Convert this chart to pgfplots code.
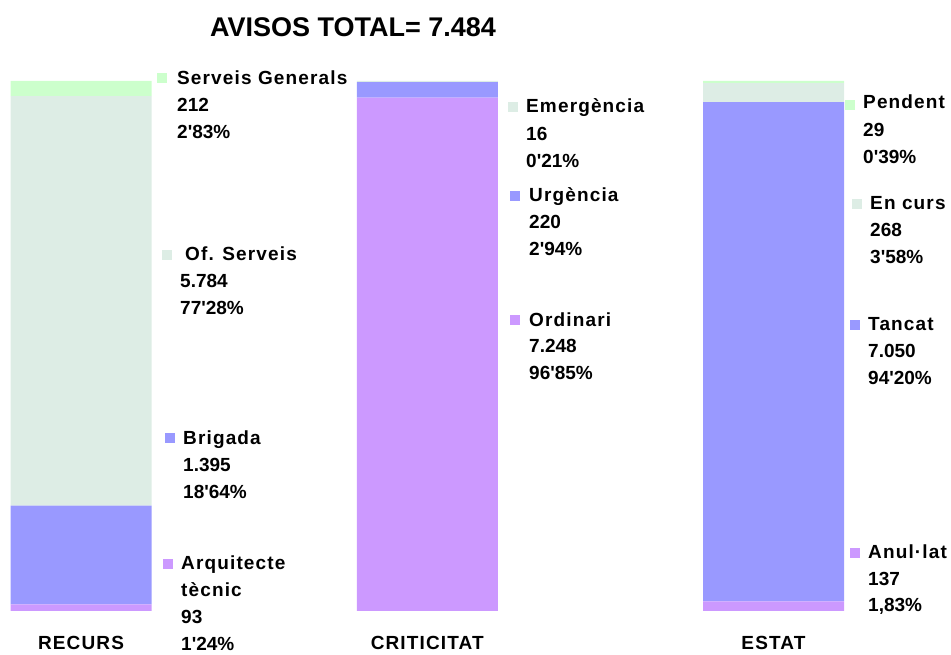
\documentclass[border=0pt]{standalone}
\usepackage{fontspec}
\setmainfont{Liberation Sans}[Ligatures=TeXOff]
\newfontfamily\spfont{Liberation Sans}[Ligatures=TeXOff, LetterSpace=6]
\usepackage{pgfplots}
\pgfplotsset{compat=1.18}
\definecolor{cgreen}{HTML}{CCFFCC}
\definecolor{cgrey}{HTML}{DDEDE5}
\definecolor{cblue}{HTML}{9999FF}
\definecolor{cpurple}{HTML}{CC99FF}
\newcommand{\lf}{\fontsize{19}{22}\selectfont\bfseries}
\newcommand{\lfs}{\spfont\fontsize{19}{22}\selectfont\bfseries}
\newcommand{\tl}[3]{\node[anchor=base west, inner sep=0, font=\lfs] at ({#1},{648-#2}) {#3};}
\newcommand{\tn}[3]{\node[anchor=base west, inner sep=0, font=\lf] at ({#1},{648-#2}) {#3};}
\newcommand{\sq}[3]{\node[anchor=west, inner sep=0] at ({#1},{655-#2}) {\textcolor{#3}{\rule{10pt}{10pt}}};}
\begin{document}
\begin{tikzpicture}
\useasboundingbox (0,0) rectangle (951pt,655pt);
\begin{axis}[at={(0,0)}, anchor=south west, scale only axis, width=951pt, height=655pt,
 xmin=-0.23394, xmax=2.51264, ymin=-621.3, ymax=8627.8,
 ybar stacked, bar width=141pt,
 axis line style={draw=none}, tick style={draw=none}, ytick=\empty,
 xtick={0,1,2}, xticklabels={RECURS,CRITICITAT,ESTAT},
 xticklabel style={anchor=base, yshift=5pt, font=\lfs},
 clip=false]
\addplot[fill=cpurple, draw=none] coordinates {(0,93) (1,7248) (2,137)};
\addplot[fill=cblue, draw=none] coordinates {(0,1395) (1,220) (2,7050)};
\addplot[fill=cgrey, draw=none] coordinates {(0,5784) (1,16) (2,268)};
\addplot[fill=cgreen, draw=none] coordinates {(0,212) (1,0) (2,29)};
\end{axis}
\node[font=\fontsize{27}{30}\selectfont\bfseries] at (353pt,628pt) {AVISOS TOTAL= 7.484};
\begin{scope}[x=1pt,y=1pt]
\sq{157}{78}{cgreen} \tl{177}{78}{Serveis Generals} \tn{177}{105}{212} \tn{177}{132}{2'83\%}
\sq{162}{255}{cgrey} \tl{185}{254}{Of. Serveis} \tn{180}{281}{5.784} \tn{180}{308}{77'28\%}
\sq{165}{438}{cblue} \tl{183}{438}{Brigada} \tn{183}{465}{1.395} \tn{183}{492}{18'64\%}
\sq{163}{564}{cpurple} \tl{181}{563}{Arquitecte} \tl{181}{590}{tècnic} \tn{181}{617}{93} \tn{181}{644}{1'24\%}
\sq{508}{107}{cgrey} \tl{526}{106}{Emergència} \tn{526}{134}{16} \tn{526}{161}{0'21\%}
\sq{510}{196}{cblue} \tl{529}{195}{Urgència} \tn{529}{222}{220} \tn{529}{249}{2'94\%}
\sq{510}{320}{cpurple} \tl{529}{320}{Ordinari} \tn{529}{346}{7.248} \tn{529}{373}{96'85\%}
\sq{845}{105}{cgreen} \tl{863}{102}{Pendent} \tn{863}{130}{29} \tn{863}{157}{0'39\%}
\sq{852}{204}{cgrey} \tl{870}{203}{En curs} \tn{870}{230}{268} \tn{870}{257}{3'58\%}
\sq{850}{325}{cblue} \tl{868}{324}{Tancat} \tn{868}{351}{7.050} \tn{868}{378}{94'20\%}
\sq{850}{553}{cpurple} \tl{868}{552}{Anul·lat} \tn{868}{579}{137} \tn{868}{605}{1,83\%}
\end{scope}
\end{tikzpicture}
\end{document}
